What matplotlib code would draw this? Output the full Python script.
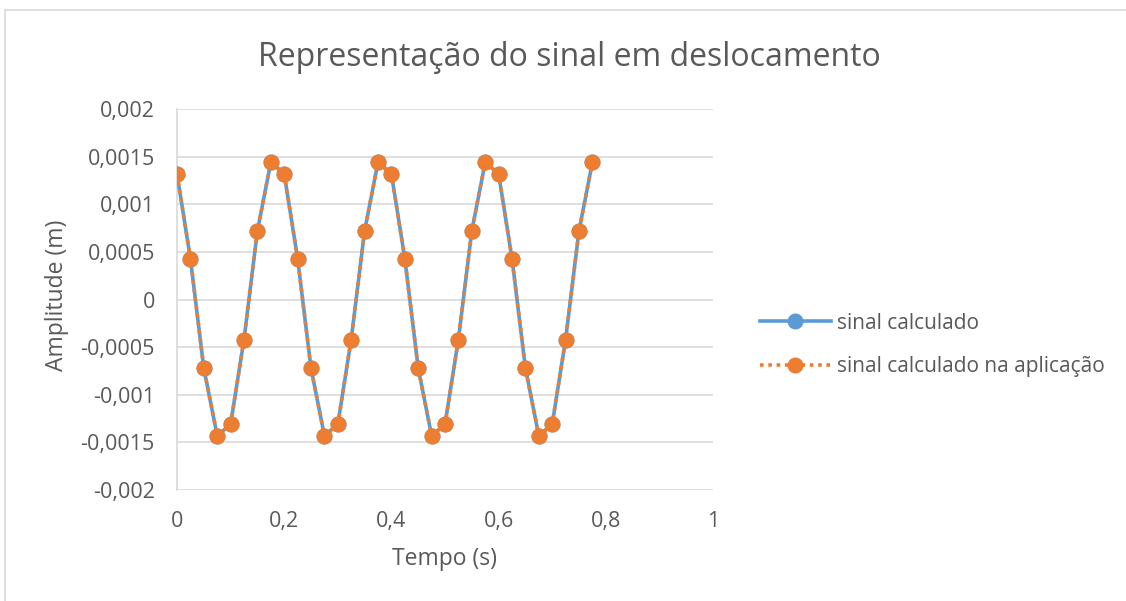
import matplotlib
matplotlib.use("Agg")
import matplotlib.pyplot as plt
from matplotlib.patches import Rectangle

# ---- data ----
tempo = [0.0, 0.025, 0.05, 0.075, 0.1, 0.125, 0.15, 0.175,
         0.2, 0.225, 0.25, 0.275, 0.3, 0.325, 0.35, 0.375,
         0.4, 0.425, 0.45, 0.475, 0.5, 0.525, 0.55, 0.575,
         0.6, 0.625, 0.65, 0.675, 0.7, 0.725, 0.75, 0.775]
sinal_calculado = [0.00132, 0.00043, -0.00072, -0.00143, -0.00131, -0.00042, 0.00072, 0.00144,
                   0.00132, 0.00043, -0.00072, -0.00143, -0.00131, -0.00042, 0.00072, 0.00144,
                   0.00132, 0.00043, -0.00072, -0.00143, -0.00131, -0.00042, 0.00072, 0.00144,
                   0.00132, 0.00043, -0.00072, -0.00143, -0.00131, -0.00042, 0.00072, 0.00144]
sinal_aplicacao = [0.00132, 0.00043, -0.00072, -0.00143, -0.00131, -0.00042, 0.00072, 0.00144,
                   0.00132, 0.00043, -0.00072, -0.00143, -0.00131, -0.00042, 0.00072, 0.00144,
                   0.00132, 0.00043, -0.00072, -0.00143, -0.00131, -0.00042, 0.00072, 0.00144,
                   0.00132, 0.00043, -0.00072, -0.00143, -0.00131, -0.00042, 0.00072, 0.00144]
y_ticks = [-0.002, -0.0015, -0.001, -0.0005, 0, 0.0005, 0.001, 0.0015, 0.002]
y_tick_labels = ["-0,002", "-0,0015", "-0,001", "-0,0005", "0", "0,0005", "0,001", "0,0015", "0,002"]
x_ticks = [0, 0.2, 0.4, 0.6, 0.8, 1]
x_tick_labels = ["0", "0,2", "0,4", "0,6", "0,8", "1"]

title = "Representação do sinal em deslocamento"
xlabel = "Tempo (s)"
ylabel = "Amplitude (m)"
series_names = ["sinal calculado", "sinal calculado na aplicação"]

# ---- style ----
plt.rcParams['font.family'] = ['Open Sans', 'DejaVu Sans']
txt = "#595959"
grid_c = "#D9D9D9"
blue = "#5B9BD5"
orange = "#ED7D31"

W, H = 1126, 601
fig = plt.figure(figsize=(W / 100, H / 100), dpi=100)
fig.patch.set_facecolor("white")

# chart border
fig.patches.append(Rectangle((5 / W, -0.05), 1.1, 1 - 10 / H + 0.05,
                             transform=fig.transFigure, fill=False,
                             edgecolor=grid_c, linewidth=1.2))

ax = fig.add_axes([177 / W, 1 - 490 / H, (713 - 177) / W, (490 - 109) / H])
ax.set_xlim(0, 1)
ax.set_ylim(-0.002, 0.002)

ax.plot(tempo, sinal_calculado, color=blue, linewidth=2.6, marker="o",
        markersize=10.5, markerfacecolor=blue, markeredgecolor=blue,
        label=series_names[0], zorder=3)
ax.plot(tempo, sinal_aplicacao, color=orange, linewidth=2.6, linestyle=(0, (1, 1.3)),
        marker="o", markersize=10.5, markerfacecolor=orange, markeredgecolor=orange,
        label=series_names[1], zorder=4)

ax.set_yticks(y_ticks)
ax.set_yticklabels(y_tick_labels)
ax.set_xticks(x_ticks)
ax.set_xticklabels(x_tick_labels)
ax.tick_params(axis="both", length=0, labelsize=15.5, labelcolor=txt)
ax.tick_params(axis="y", pad=16)
ax.tick_params(axis="x", pad=15)

ax.grid(axis="y", color=grid_c, linewidth=1.2)
ax.grid(axis="x", visible=False)
ax.set_axisbelow(True)
for s in ["top", "right", "bottom"]:
    ax.spines[s].set_visible(False)
ax.spines["left"].set_color(grid_c)
ax.spines["left"].set_linewidth(1.2)

fig.text(569.5 / W, 1 - 58 / H, title, ha="center", va="center", fontsize=23, color=txt)
fig.text(444 / W, 1 - 559 / H, xlabel, ha="center", va="center", fontsize=16.5, color=txt)
fig.text(57 / W, 1 - 295 / H, ylabel, ha="center", va="center", rotation=90, fontsize=16.5, color=txt)

leg = ax.legend(loc="center left", bbox_to_anchor=(760 / W, 1 - 345 / H),
                bbox_transform=fig.transFigure, frameon=False, fontsize=15,
                labelcolor=txt, handlelength=3.4, labelspacing=1.1, handletextpad=0.3,
                borderpad=0, borderaxespad=0)

fig.savefig("out.png", dpi=100, facecolor="white")
